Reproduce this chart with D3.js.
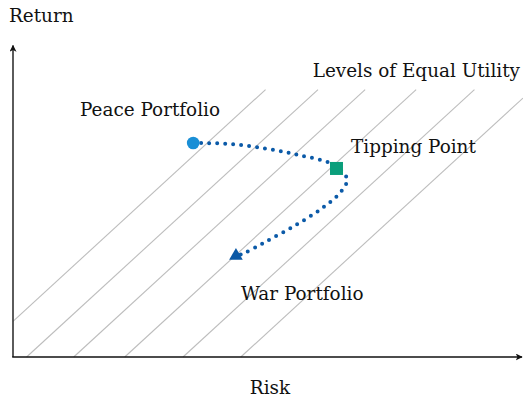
<!DOCTYPE html>
<html>
<head>
<meta charset="utf-8">
<script src="https://cdn.jsdelivr.net/npm/d3@7"></script>
<style>
  body { margin: 0; background: #fff; }
  text { font-family: "DejaVu Serif", serif; font-size: 18.4px; fill: #111; }
</style>
</head>
<body>
<div id="chart"></div>
<script>
// utility lines: return = risk - offset
var utilityOffsets = [-0.8, 0.28, 1.25, 2.3, 3.5, 4.69];
var utilityTop = 6;

// transition path between the portfolios
var pathRisk   = [3.71, 4.47, 5.23, 5.89, 6.53, 6.79, 6.88, 6.73, 6.34, 5.79, 5.19, 4.76, 4.59];
var pathReturn = [4.80, 4.78, 4.67, 4.53, 4.35, 4.15, 3.97, 3.68, 3.32, 2.94, 2.58, 2.33, 2.27];

var peace   = {risk: 3.71, ret: 4.80, label: 'Peace Portfolio'};
var tipping = {risk: 6.66, ret: 4.23, label: 'Tipping Point'};
var war     = {risk: 4.59, ret: 2.27, label: 'War Portfolio'};

var width = 523, height = 400;
var margin = {top: 45, right: 0, bottom: 43, left: 13};

var xMax = 10.5, yMax = 7;
var xScale = d3.scaleLinear().domain([0, xMax]).range([margin.left, width - margin.right]);
var yScale = d3.scaleLinear().domain([0, yMax]).range([height - margin.bottom, margin.top]);

var svg = d3.select('#chart').append('svg')
    .attr('width', width)
    .attr('height', height);

var defs = svg.append('defs');
defs.append('marker')
    .attr('id', 'arrow')
    .attr('viewBox', '0 0 10 10')
    .attr('refX', 9).attr('refY', 5)
    .attr('markerWidth', 7).attr('markerHeight', 7)
    .attr('markerUnits', 'userSpaceOnUse')
    .attr('orient', 'auto')
    .append('path')
    .attr('d', 'M0,0 L10,5 L0,10 L2.5,5 Z')
    .attr('fill', '#111');

// utility lines, clipped to the plot box
var lines = utilityOffsets.map(c => {
    var x0 = Math.max(c, 0);
    var y1 = Math.min(utilityTop, xMax - c);
    return [[x0, x0 - c], [y1 + c, y1]];
});
svg.append('g').selectAll('line')
    .data(lines)
    .join('line')
    .attr('x1', d => xScale(d[0][0]))
    .attr('y1', d => yScale(d[0][1]))
    .attr('x2', d => xScale(d[1][0]))
    .attr('y2', d => yScale(d[1][1]))
    .attr('stroke', '#bdbdbd')
    .attr('stroke-width', 1.1);

// axes
svg.append('line')
    .attr('x1', xScale(0)).attr('y1', yScale(0))
    .attr('x2', xScale(0)).attr('y2', yScale(yMax) + 0.5)
    .attr('stroke', '#333').attr('stroke-width', 1.6)
    .attr('marker-end', 'url(#arrow)');
svg.append('line')
    .attr('x1', xScale(0) - 0.8).attr('y1', yScale(0))
    .attr('x2', xScale(xMax) - 1).attr('y2', yScale(0))
    .attr('stroke', '#111').attr('stroke-width', 1.6)
    .attr('marker-end', 'url(#arrow)');

// dotted transition path
var pathData = pathRisk.map((r, i) => [r, pathReturn[i]]);
var lineGen = d3.line()
    .x(d => xScale(d[0]))
    .y(d => yScale(d[1]))
    .curve(d3.curveCatmullRom);
svg.append('path')
    .datum(pathData)
    .attr('d', lineGen)
    .attr('fill', 'none')
    .attr('stroke', '#0b5aa8')
    .attr('stroke-width', 4)
    .attr('stroke-linecap', 'round')
    .attr('stroke-dasharray', '0 8');

// markers
svg.append('circle')
    .attr('cx', xScale(peace.risk)).attr('cy', yScale(peace.ret))
    .attr('r', 6.3)
    .attr('fill', '#1a8fd6');
svg.append('rect')
    .attr('x', xScale(tipping.risk) - 6.5).attr('y', yScale(tipping.ret) - 6.5)
    .attr('width', 13).attr('height', 13)
    .attr('fill', '#0a9e7b');
svg.append('path')
    .attr('transform', 'translate(' + xScale(war.risk) + ',' + yScale(war.ret) + ')')
    .attr('d', d3.symbol(d3.symbolTriangle, 80))
    .attr('fill', '#0b58a5');

// labels
svg.append('text').attr('x', 9).attr('y', 22).text('Return');
svg.append('text').attr('x', 270).attr('y', 394).attr('text-anchor', 'middle').text('Risk');
svg.append('text').attr('x', 520).attr('y', 77).attr('text-anchor', 'end').text('Levels of Equal Utility');
svg.append('text').attr('x', 80).attr('y', 116).text(peace.label);
svg.append('text').attr('x', 351).attr('y', 153).text(tipping.label);
svg.append('text').attr('x', 241).attr('y', 300).text(war.label);
</script>
</body>
</html>
